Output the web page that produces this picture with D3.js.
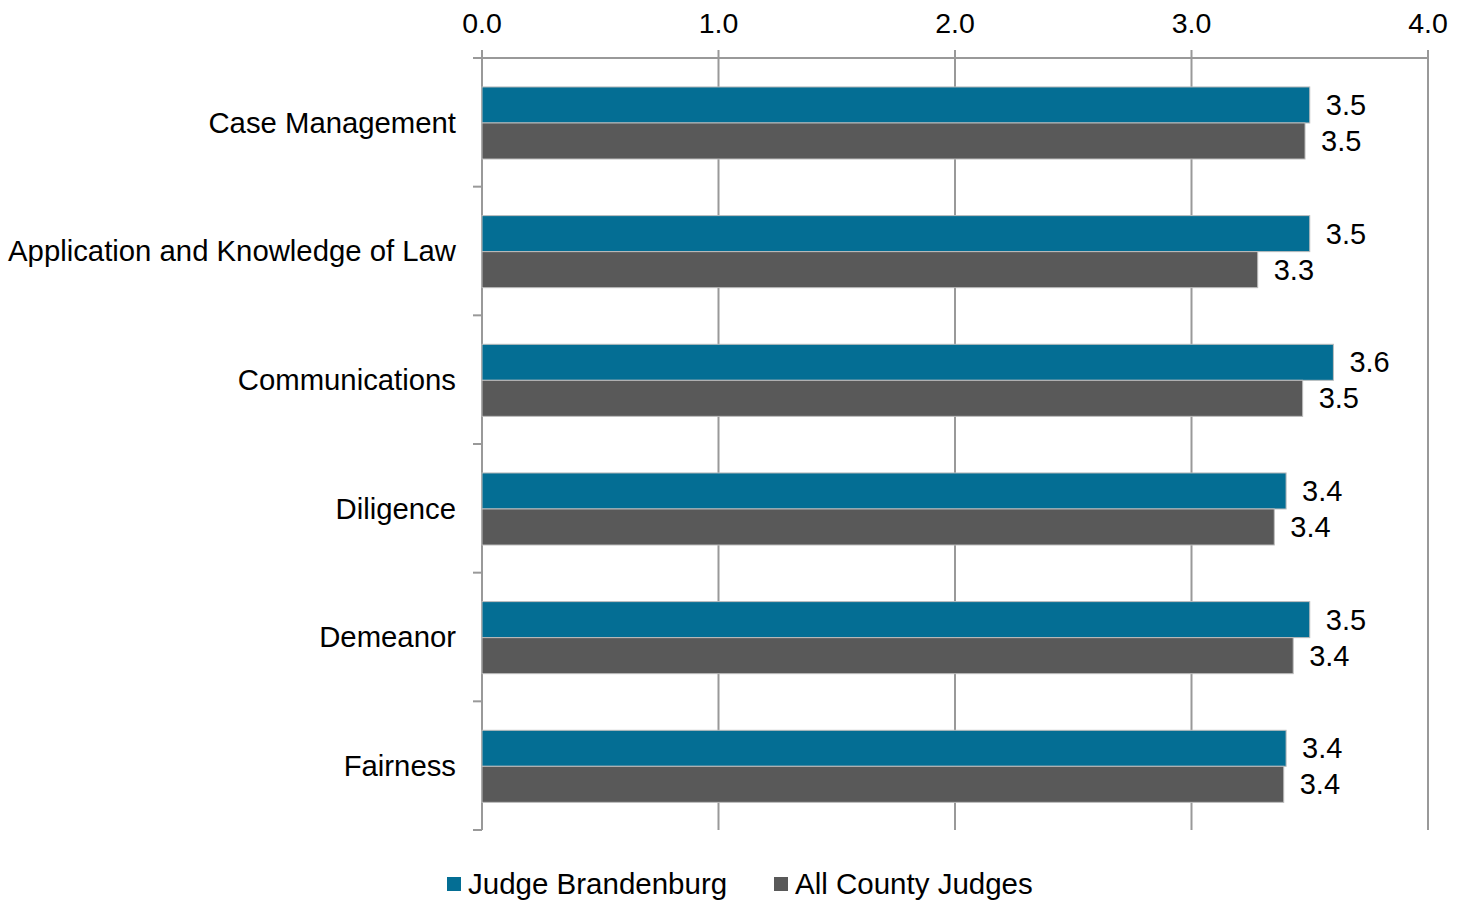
<!DOCTYPE html>
<html>
<head>
<meta charset="utf-8">
<script src="https://cdn.jsdelivr.net/npm/d3@7"></script>
<style>
  body { margin: 0; background: #fff; }
  text { font-family: 'Liberation Sans', Arial, sans-serif; fill: #000; }
</style>
</head>
<body>
<div id="chart"></div>
<script>
// categories, top to bottom
var categories = ['Case Management', 'Application and Knowledge of Law', 'Communications', 'Diligence', 'Demeanor', 'Fairness']
var seriesNames = ['Judge Brandenburg', 'All County Judges']
var judgeValues = [3.50, 3.50, 3.60, 3.40, 3.50, 3.40]
var countyValues = [3.48, 3.28, 3.47, 3.35, 3.43, 3.39]
var xTicks = [0, 1, 2, 3, 4]
var colors = ['#046e94', '#595959']

var width = 1468
var height = 903
// note: can't use `top` as a global name (window.top)
var plotLeft = 482, plotRight = 1428, plotTop = 58, plotBottom = 830

var svg = d3.select('#chart')
  .append('svg')
  .attr('width', width)
  .attr('height', height)

var x = d3.scaleLinear().domain([0, 4]).range([plotLeft, plotRight])
var y0 = d3.scaleBand().domain(categories).range([plotTop, plotBottom]).padding(0)
var y1 = d3.scaleBand().domain(seriesNames)
  .range([y0.bandwidth() * 0.225, y0.bandwidth() * 0.785])

var fmt = d3.format('.1f')

// gridlines
svg.append('g')
  .selectAll('line')
  .data(xTicks)
  .enter()
  .append('line')
  .attr('x1', (d) => { return x(d) })
  .attr('x2', (d) => { return x(d) })
  .attr('y1', plotTop - 8)
  .attr('y2', plotBottom)
  .attr('stroke', '#999')
  .attr('stroke-width', 2)

// top axis line
svg.append('line')
  .attr('x1', plotLeft - 9)
  .attr('x2', plotRight + 1)
  .attr('y1', plotTop)
  .attr('y2', plotTop)
  .attr('stroke', '#999')
  .attr('stroke-width', 2)

// left tick marks at band edges
var edges = categories.map((d) => { return y0(d) }).concat([plotBottom])
svg.append('g')
  .selectAll('line')
  .data(edges)
  .enter()
  .append('line')
  .attr('x1', plotLeft - 9)
  .attr('x2', plotLeft)
  .attr('y1', (d) => { return d })
  .attr('y2', (d) => { return d })
  .attr('stroke', '#999')
  .attr('stroke-width', 2)

// x tick labels
svg.append('g')
  .selectAll('text')
  .data(xTicks)
  .enter()
  .append('text')
  .attr('x', (d) => { return x(d) })
  .attr('y', 33)
  .attr('text-anchor', 'middle')
  .style('font-size', '28.5px')
  .text((d) => { return fmt(d) })

// category labels
svg.append('g')
  .selectAll('text')
  .data(categories)
  .enter()
  .append('text')
  .attr('x', plotLeft - 26)
  .attr('y', (d) => { return y0(d) + y0.bandwidth() / 2 })
  .attr('dy', '0.35em')
  .attr('text-anchor', 'end')
  .style('font-size', '29.3px')
  .text((d) => { return d })

var rows = categories.map((c, i) => {
  return { cat: c, vals: [judgeValues[i], countyValues[i]] }
})

var groups = svg.append('g')
  .selectAll('g')
  .data(rows)
  .enter()
  .append('g')
  .attr('transform', (d) => { return 'translate(0,' + y0(d.cat) + ')' })

groups.selectAll('rect')
  .data((d) => { return d.vals.map((v, j) => { return { s: seriesNames[j], v: v, j: j } }) })
  .enter()
  .append('rect')
  .attr('x', x(0))
  .attr('y', (d) => { return y1(d.s) })
  .attr('width', (d) => { return x(d.v) - x(0) })
  .attr('height', y1.bandwidth())
  .attr('fill', (d) => { return colors[d.j] })
  .attr('stroke', '#bdbdbd')
  .attr('stroke-width', 1)

groups.selectAll('text')
  .data((d) => { return d.vals.map((v, j) => { return { s: seriesNames[j], v: v, j: j } }) })
  .enter()
  .append('text')
  .attr('x', (d) => { return x(d.v) + 16 })
  .attr('y', (d) => { return y1(d.s) + y1.bandwidth() / 2 })
  .attr('dy', '0.35em')
  .style('font-size', '29px')
  .text((d) => { return fmt(d.v) })

// legend
var legendX = [447, 774]
var legend = svg.append('g')
  .selectAll('g')
  .data(seriesNames)
  .enter()
  .append('g')
  .attr('transform', (d, i) => { return 'translate(' + legendX[i] + ',877)' })
legend.append('rect')
  .attr('width', 14)
  .attr('height', 14)
  .attr('fill', (d, i) => { return colors[i] })
legend.append('text')
  .attr('x', 21)
  .attr('y', 7)
  .attr('dy', '0.35em')
  .style('font-size', '29.5px')
  .text((d) => { return d })
</script>
</body>
</html>
